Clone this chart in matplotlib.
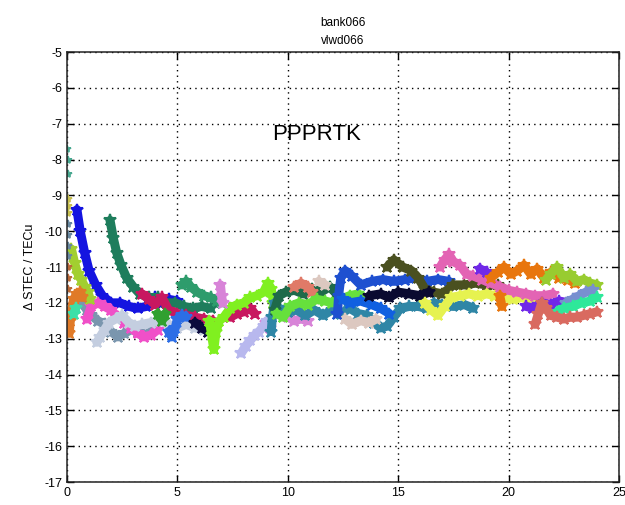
import matplotlib
matplotlib.use("Agg")
import matplotlib.pyplot as plt
import numpy as np

nan = np.nan

# ---- data (hours vs dSTEC in TECu) ----
series = [
    # (color, x, y)
    ("#1414e0",
     [0.45, 0.6, 0.8, 1.0, 1.3, 1.6, 2.0, 2.4, 2.8, 3.2, 3.6, 4.0, 4.3, 4.6, 5.0],
     [-9.4, -10.0, -10.6, -11.1, -11.5, -11.8, -12.0, -12.0, -12.1, -12.15, -12.1, -11.85, -12.0, -11.9, -11.95]),
    ("#1e7d5c",
     [1.95, 2.1, 2.25, 2.45, 2.7, 3.0, 3.3, 3.7, 4.1, 4.5, 4.9, 5.3, 5.7, 6.1, 6.5],
     [-9.7, -10.2, -10.6, -10.95, -11.3, -11.55, -11.75, -11.85, -11.85, -12.0, -12.0, -12.1, -12.15, -12.1, -12.15]),
    ("#2e9c6c",
     [5.2, 5.4, 5.6, 5.9, 6.2, 6.5, 6.8, 7.0],
     [-11.5, -11.4, -11.55, -11.7, -11.8, -11.85, -11.95, -12.0]),
    ("#7a96ae",
     [0.5, 0.7, 0.9, 1.1, 1.4, 1.7, 2.0, 2.3, 2.6, 2.9, 3.2, 3.5, 3.8],
     [-11.8, -12.0, -12.2, -12.35, -12.5, -12.6, -12.8, -12.95, -12.85, -12.75, -12.8, -12.9, -12.8]),
    ("#f050c8",
     [0.9, 1.1, 1.4, 1.7, 2.0, 2.3, 2.6, 2.9, 3.2, 3.5, 3.8, 4.1],
     [-12.45, -12.1, -12.0, -12.1, -12.2, -12.4, -12.55, -12.7, -12.85, -12.95, -12.9, -12.75]),
    ("#c4cee0",
     [1.35, 1.5, 1.7, 1.9, 2.2, 2.5, 2.8, 3.1, 3.4, 3.8, 4.2, 4.6, 5.0, 5.4, 5.8, 6.2],
     [-13.1, -12.95, -12.75, -12.55, -12.45, -12.35, -12.55, -12.65, -12.6, -12.55, -12.5, -12.6, -12.7, -12.6, -12.7, -12.75]),
    ("#a2cf30",
     [0.05, 0.2, 0.35, 0.5, 0.65, 0.8, 0.95, 1.05],
     [-10.6, -10.5, -10.9, -11.2, -11.35, -11.55, -11.7, -11.9]),
    ("#e07a28",
     [0.1, 0.15, 0.2, 0.3, 0.45, 0.6, 0.7],
     [-12.85, -12.5, -12.2, -11.9, -11.75, -11.7, -11.85]),
    ("#3ce0a8",
     [0.3, 0.4],
     [-12.3, -12.15]),
    ("#c81860",
     [3.4, 3.7, 4.0, 4.3, 4.6, 5.0, 5.4, 5.8, 6.2, 6.6, nan, 7.4, 7.7, 8.0, 8.3, 8.5],
     [-11.75, -11.9, -12.05, -11.85, -12.2, -12.3, -12.35, -12.4, -12.45, -12.5, nan, -12.4, -12.3, -12.25, -12.15, -12.3]),
    ("#2c6ee6",
     [4.6, 4.75, 4.9, 5.0, 5.2, 5.4],
     [-12.8, -12.95, -12.7, -12.45, -12.35, -12.4]),
    ("#30a030",
     [4.1, 4.3, 4.45],
     [-12.3, -12.5, -12.3]),
    ("#0a0a3c",
     [5.8, 6.1, 6.4, 6.6],
     [-12.55, -12.7, -12.8, -12.7]),
    ("#80f020",
     [6.45, 6.55, 6.65, 6.75, 6.9, 7.1, 7.4, 7.7, 8.0, 8.3, 8.6, 8.9, 9.1, 9.25, 9.35],
     [-12.5, -12.9, -13.3, -12.8, -12.5, -12.4, -12.15, -12.05, -12.0, -11.85, -11.8, -11.7, -11.45, -11.6, -12.0]),
    ("#d884d8",
     [6.95, 7.0, 7.05, nan, 9.0, 9.2, nan, 10.0, 10.3, 10.6, 10.9],
     [-11.5, -11.8, -12.0, nan, -12.55, -12.7, nan, -12.4, -12.5, -12.45, -12.5]),
    ("#b8b8ee",
     [7.9, 8.1, 8.3, 8.5, 8.7, 8.9, 9.05],
     [-13.4, -13.2, -13.05, -12.9, -12.8, -12.65, -12.5]),
    ("#2f86a6",
     [9.25, 9.3, 9.4, 9.6, 10.0, 10.4, 10.8, 11.2, 11.6, 12.0, 12.4, 12.8, 13.2, 13.6, 13.9,
      14.2, 14.5, 14.8, 15.1, 15.5, 15.9, 16.3, 16.6, 17.0, 17.5, 18.0, 18.4],
     [-12.8, -12.4, -12.0, -12.15, -12.25, -12.2, -12.35, -12.2, -12.35, -12.2, -12.3, -12.15, -12.3, -12.35, -12.55,
      -12.7, -12.65, -12.4, -12.15, -12.1, -12.1, -12.15, -12.0, -12.05, -12.1, -12.05, -12.15]),
    ("#1f6a4a",
     [9.4, 9.6, 9.9, 10.3, 10.7, 11.1, 11.5, 11.9, 12.2],
     [-12.2, -11.8, -11.7, -11.65, -11.75, -11.6, -11.7, -11.55, -11.75]),
    ("#e07a68",
     [10.3, 10.6, 10.9, 11.1],
     [-11.55, -11.45, -11.55, -11.7]),
    ("#66e03c",
     [9.5, 9.8, 10.1, 10.5, 10.9, 11.3, 11.7, 12.0, 12.4, 12.8, 13.2, 13.4],
     [-12.3, -12.4, -12.1, -12.0, -12.05, -11.9, -11.95, -12.0, -11.9, -11.8, -11.75, -11.85]),
    ("#dcc8c0",
     [11.4, 11.7, nan, 12.6, 12.9, 13.3, 13.7, 14.0],
     [-11.4, -11.5, nan, -12.45, -12.6, -12.5, -12.55, -12.45]),
    ("#1e50d0",
     [12.25, 12.3, 12.4, 12.6, 12.9, 13.3, 13.8, 14.3, 14.8, 15.3, 15.8, 16.3, 16.8, 17.3],
     [-12.3, -11.8, -11.3, -11.1, -11.25, -11.5, -11.4, -11.35, -11.4, -11.35, -11.3, -11.4, -11.35, -11.4]),
    ("#1060e0",
     [12.5, 12.8, 13.3, 13.8, 14.2, 14.6],
     [-11.9, -12.0, -11.95, -12.05, -12.15, -12.3]),
    ("#4a5020",
     [14.5, 14.8, 15.2, 15.6, 15.9, 16.2, 16.6, 17.0, 17.5, 18.0, 18.5, 19.0, 19.5],
     [-11.0, -10.8, -11.0, -11.1, -11.3, -11.6, -11.7, -11.75, -11.5, -11.5, -11.45, -11.5, -11.5]),
    ("#0a0a30",
     [13.7, 14.2, 14.6, 15.0, 15.5, 16.0, 16.4],
     [-11.8, -11.75, -11.85, -11.7, -11.75, -11.8, -11.7]),
    ("#e6f250",
     [16.2, 16.5, 16.8, 17.1, 17.4, 17.8, 18.2, 18.6, 19.0, 19.4, 19.8, 20.2, 20.6, 21.0, 21.3],
     [-12.0, -12.2, -12.35, -12.1, -11.85, -11.8, -11.75, -11.8, -11.75, -11.8, -11.85, -11.9, -11.85, -11.95, -12.0]),
    ("#e364b4",
     [16.9, 17.1, 17.3, 17.5, 17.8, 18.1, 18.4, 18.8, 19.2, 19.6, 20.0, 20.4, 20.8, 21.2, 21.6, 22.0],
     [-11.0, -10.8, -10.65, -10.85, -10.95, -11.2, -11.25, -11.35, -11.45, -11.55, -11.65, -11.7, -11.75, -11.8, -11.8, -11.75]),
    ("#7028e8",
     [18.7, 19.0, nan, 20.8, 21.1, 21.5, 21.9, 22.3, 22.7, 23.0],
     [-11.05, -11.15, nan, -12.1, -12.15, -12.0, -12.05, -11.95, -12.0, -11.9]),
    ("#e8760e",
     [19.2, 19.5, 19.8, 20.1, 20.4, 20.7, 21.0, 21.3, 21.6, 21.9, 22.3, 22.7, 23.0, nan, 19.6, 19.7],
     [-11.3, -11.15, -11.0, -11.2, -11.1, -10.95, -11.2, -11.05, -11.3, -11.15, -11.3, -11.35, -11.45, nan, -11.8, -12.1]),
    ("#98cc30",
     [21.7, 21.9, 22.2, 22.5, 22.8, 23.1, 23.4, 23.7, 24.0],
     [-11.35, -11.2, -11.0, -11.3, -11.2, -11.4, -11.35, -11.45, -11.5]),
    ("#7890d0",
     [22.6, 22.9, 23.2, 23.5, 23.8],
     [-12.0, -11.9, -11.8, -11.7, -11.65]),
    ("#2ee89a",
     [22.2, 22.5, 22.9, 23.3, 23.7, 24.0],
     [-12.25, -12.15, -12.1, -12.0, -11.95, -11.85]),
    ("#d96a60",
     [21.2, 21.35, 21.5, 21.7, 21.9, 22.2, 22.5, 22.8, 23.1, 23.4, 23.7, 24.0],
     [-12.6, -12.3, -12.0, -12.15, -12.35, -12.4, -12.45, -12.4, -12.4, -12.35, -12.3, -12.25]),
]

# first-epoch points scattered along x = 0
dots = [
    ("#48a890", [0.02, 0.03, 0.04], [-7.7, -8.0, -8.4]),
    ("#c8c050", [0.03, 0.05, 0.04], [-9.1, -9.3, -9.5]),
    ("#6888a0", [0.03, 0.04, 0.05, 0.04], [-9.8, -10.1, -10.4, -10.7]),
    ("#b86838", [0.05, 0.06, 0.05], [-11.0, -11.3, -11.6]),
]

xticks = [0, 5, 10, 15, 20, 25]
yticks = list(range(-17, -4))

plt.rcParams['font.family'] = ['Liberation Sans', 'DejaVu Sans']
plt.rcParams['axes.unicode_minus'] = False

fig = plt.figure(figsize=(6.25, 5.05), dpi=100)
ax = fig.add_axes([0.1072, 0.0455, 0.8832, 0.8515])

for c, x, y in series:
    ax.plot(x, y, '-', color=c, lw=6.5, solid_capstyle='round', solid_joinstyle='round')
    ax.plot(x, y, '*', color=c, ms=9, mew=1.5)
for c, x, y in dots:
    ax.plot(x, y, '*', color=c, ms=6, mew=1.2, ls='none')

ax.set_xlim(0, 25)
ax.set_ylim(-17, -5)
ax.set_xticks(xticks)
ax.set_yticks(yticks)
ax.tick_params(direction='in', top=True, right=True, labelsize=9, length=5, width=1)
ax.grid(True, color='black', ls=(0, (1, 3)), lw=1.0)
for s in ax.spines.values():
    s.set_linewidth(1.1)
    s.set_color('#222222')

ax.set_title("bank066\nvlwd066", fontsize=8.5, linespacing=1.6, pad=6)
ax.set_ylabel("\u0394 STEC / TECu", fontsize=9, labelpad=6)
ax.text(9.3, -7.3, "PPPRTK", fontsize=16, va='center', ha='left')

fig.savefig("out.png", dpi=100)
